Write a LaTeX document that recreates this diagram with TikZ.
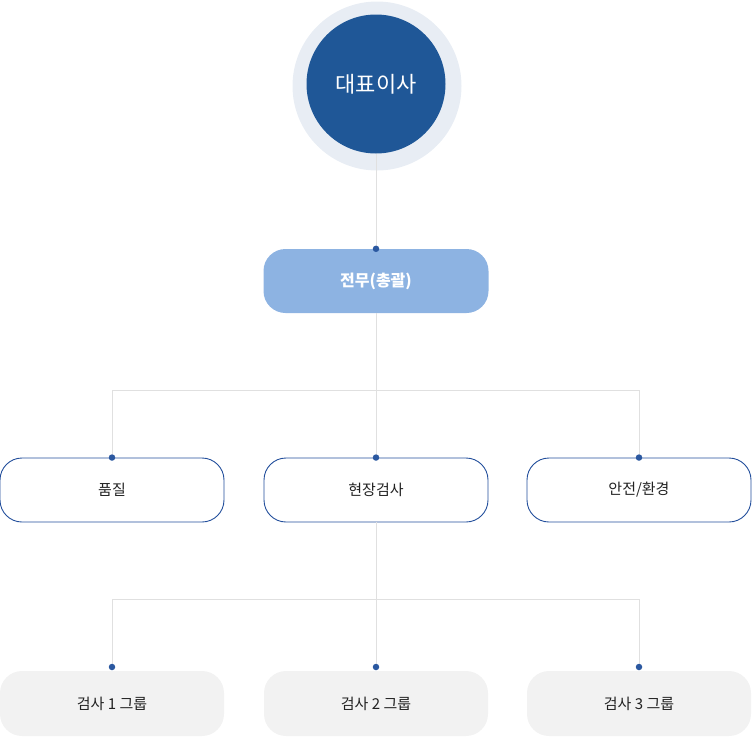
\documentclass[tikz,border=0pt]{standalone}
\usepackage{fontspec}
\setmainfont{Noto Sans CJK KR}
\definecolor{dblue}{HTML}{1F5797}
\definecolor{ring}{HTML}{E8EDF4}
\definecolor{lblue}{HTML}{8DB3E2}
\definecolor{bord}{HTML}{234F9C}
\definecolor{conn}{HTML}{E0E0E0}
\definecolor{dotc}{HTML}{2B58A0}
\definecolor{gbox}{HTML}{F2F2F2}
\definecolor{txt}{HTML}{222222}
\begin{document}
\begin{tikzpicture}[x=1pt,y=-1pt,
  conline/.style={draw=conn,line width=0.8pt},
  dotmark/.style={circle,fill=dotc,inner sep=0pt,minimum size=6.5pt},
  midbox/.style={draw=bord,line width=0.9pt,fill=white,rounded corners=22pt,minimum width=224pt,minimum height=64pt,inner sep=0pt,font=\fontsize{15}{17}\selectfont,text=txt},
  lowbox/.style={fill=gbox,rounded corners=22pt,minimum width=224pt,minimum height=65pt,inner sep=0pt,font=\fontsize{15}{17}\selectfont,text=txt},
  topbox/.style={fill=lblue,rounded corners=22pt,minimum width=225pt,minimum height=64pt,inner sep=0pt,font=\fontsize{16}{18}\selectfont\bfseries,text=white}]
\useasboundingbox (0,0) rectangle (753,737);
\node[circle,fill=ring,minimum size=169pt,inner sep=0pt] (ceoring) at (377,86) {};
\node[circle,fill=dblue,minimum size=139pt,inner sep=0pt,text=white,font=\fontsize{22}{24}\selectfont] (ceo) at (376,84) {대표이사};
\node[topbox] (exec) at (376,281) {전무(총괄)};
\node[midbox] (q) at (112,490) {품질};
\node[midbox] (f) at (376,490) {현장검사};
\node[midbox] (s) at (639,490) {안전/환경};
\node[lowbox] (g1) at (112,703.5) {검사 1 그룹};
\node[lowbox] (g2) at (376,703.5) {검사 2 그룹};
\node[lowbox] (g3) at (639,703.5) {검사 3 그룹};
\coordinate (j1) at (376,390);
\coordinate (j2) at (376,599);
\coordinate (d1) at (112,667);
\coordinate (d2) at (376,667);
\coordinate (d3) at (639,667);
\draw[conline] (ceo.south) -- (exec.north);
\draw[conline] (exec.south) -- (f.north);
\draw[conline] (j1) -| (q.north);
\draw[conline] (j1) -| (s.north);
\draw[conline] (f.south) -- (d2);
\draw[conline] (j2) -| (d1);
\draw[conline] (j2) -| (d3);
\node[dotmark] (e1) at (exec.north) {};
\node[dotmark] (e2) at (q.north) {};
\node[dotmark] (e3) at (f.north) {};
\node[dotmark] (e4) at (s.north) {};
\node[dotmark] (e5) at (d1) {};
\node[dotmark] (e6) at (d2) {};
\node[dotmark] (e7) at (d3) {};
\end{tikzpicture}
\end{document}
